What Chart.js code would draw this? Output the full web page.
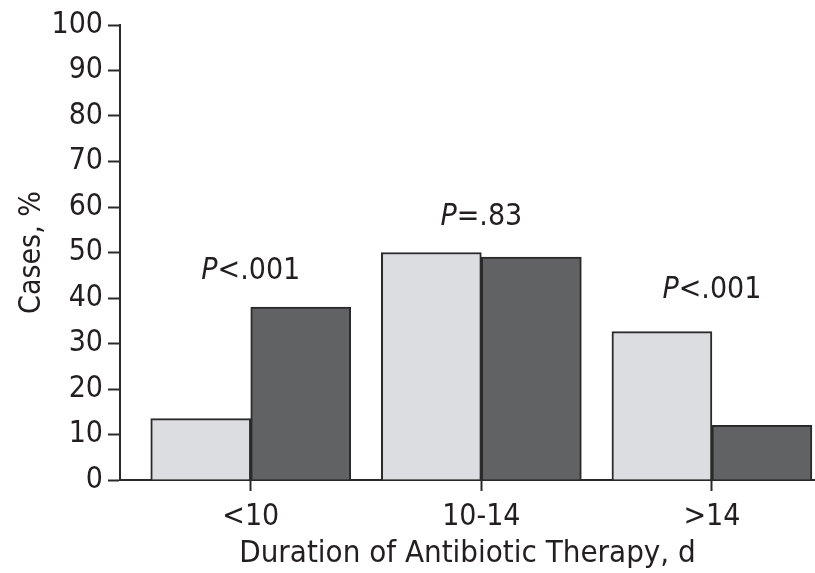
<!DOCTYPE html>
<html>
<head>
<meta charset="utf-8">
<script src="https://cdn.jsdelivr.net/npm/chart.js@4/dist/chart.umd.min.js"></script>
<style>
  html, body { margin: 0; padding: 0; background: #fff; }
  #chart { display: block; }
</style>
</head>
<body>
<canvas id="chart" width="815" height="573"></canvas>
<script>
  const categories = ["<10", "10-14", ">14"];
  const lightValues = [13.5, 50, 32.6];
  const darkValues = [38, 49, 12];
  const pLabels = ["<.001", "=.83", "<.001"];
  const pLabelY = [45.9, 57.8, 41.7];
  const yTicks = [0, 10, 20, 30, 40, 50, 60, 70, 80, 90, 100];

  const FONT = "'Liberation Sans Narrow', 'DejaVu Sans Condensed', 'Liberation Sans', Arial, sans-serif";
  const INK = "#231f20";
  const EDGE = "#2a2a2a";

  function toPoints(values) {
    return values.map((v, i) => ({ x: i, y: v }));
  }

  const pValuePlugin = {
    id: "pValues",
    afterDatasetsDraw(chart) {
      const ctx = chart.ctx;
      const xScale = chart.scales.x;
      const yScale = chart.scales.y;
      ctx.save();
      ctx.fillStyle = INK;
      ctx.textBaseline = "middle";
      pLabels.forEach((rest, i) => {
        const cx = xScale.getPixelForValue(i);
        const cy = yScale.getPixelForValue(pLabelY[i]);
        ctx.font = `italic 30px ${FONT}`;
        const wP = ctx.measureText("P").width;
        ctx.font = `30px ${FONT}`;
        const wRest = ctx.measureText(rest).width;
        const x = cx - (wP + wRest) / 2;
        ctx.textAlign = "left";
        ctx.font = `italic 30px ${FONT}`;
        ctx.fillText("P", x, cy);
        ctx.font = `30px ${FONT}`;
        ctx.fillText(rest, x + wP, cy);
      });
      ctx.restore();
    },
  };

  new Chart(document.getElementById("chart"), {
    type: "bar",
    data: {
      datasets: [
        {
          label: "Light",
          data: toPoints(lightValues),
          backgroundColor: "#dcdde0",
          borderColor: EDGE,
          borderWidth: 2,
          barThickness: 100,
        },
        {
          label: "Dark",
          data: toPoints(darkValues),
          backgroundColor: "#616264",
          borderColor: EDGE,
          borderWidth: 2,
          barThickness: 100,
        },
      ],
    },
    options: {
      responsive: false,
      devicePixelRatio: 1,
      animation: false,
      layout: { padding: { top: 25, right: 0, left: 0, bottom: 0 } },
      plugins: {
        legend: { display: false },
        tooltip: { enabled: false },
      },
      scales: {
        x: {
          type: "linear",
          offset: false,
          min: -0.567,
          max: 2.447,
          afterBuildTicks: (axis) => {
            axis.ticks = categories.map((_, i) => ({ value: i }));
          },
          afterFit: (axis) => {
            axis.height = 93;
          },
          grid: {
            offset: false,
            drawOnChartArea: false,
            drawTicks: true,
            tickLength: 11,
            tickWidth: 2,
            tickColor: EDGE,
          },
          border: { display: true, color: EDGE, width: 2 },
          ticks: {
            autoSkip: false,
            maxRotation: 0,
            padding: 8,
            color: INK,
            font: { family: FONT, size: 30 },
            callback: (value) => categories[value] ?? "",
          },
          title: {
            display: true,
            text: "Duration of Antibiotic Therapy, d",
            color: INK,
            font: { family: FONT, size: 31 },
            padding: { top: 0, bottom: 0 },
          },
        },
        y: {
          min: 0,
          max: 100,
          afterBuildTicks: (axis) => {
            axis.ticks = yTicks.map((v) => ({ value: v }));
          },
          afterFit: (axis) => {
            axis.width = 120;
          },
          grid: {
            drawOnChartArea: false,
            drawTicks: true,
            tickLength: 12,
            tickWidth: 2,
            tickColor: EDGE,
          },
          border: { display: true, color: EDGE, width: 2 },
          ticks: {
            padding: 5,
            color: INK,
            font: { family: FONT, size: 30 },
          },
          title: {
            display: true,
            text: "Cases, %",
            color: INK,
            font: { family: FONT, size: 30 },
            padding: { top: 14, bottom: 0 },
          },
        },
      },
    },
    plugins: [pValuePlugin],
  });
</script>
</body>
</html>
